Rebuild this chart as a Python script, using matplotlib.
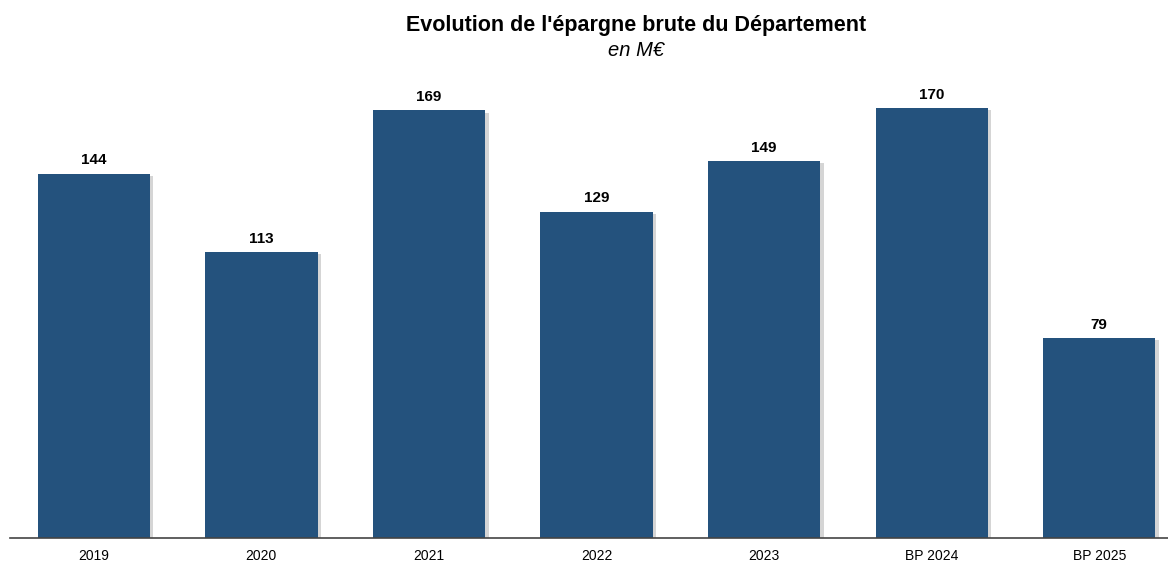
import matplotlib.pyplot as plt
import matplotlib.patheffects as pe

plt.rcParams['font.family'] = ['Liberation Sans', 'DejaVu Sans']

annees = ['2019', '2020', '2021', '2022', '2023', 'BP 2024', 'BP 2025']
epargne = [144, 113, 169, 129, 149, 170, 79]

fig = plt.figure(figsize=(11.68, 5.63), dpi=100)
ax = fig.add_axes([10 / 1168, 25 / 563, 1158 / 1168, 506 / 563])

x = range(len(annees))
bars = ax.bar(x, epargne, width=0.67, color='#24527d', zorder=2,
              path_effects=[pe.SimplePatchShadow(offset=(2.5, -1.5), shadow_rgbFace='#888888', alpha=0.35), pe.Normal()])

for xi, v in zip(x, epargne):
    ax.text(xi, v + 2.5, str(v), ha='center', va='bottom', fontsize=11, fontweight='bold')

ax.set_xlim(-0.5, 6.41)
ax.set_ylim(0, 200)
ax.set_xticks(list(x))
ax.set_xticklabels(annees, fontsize=10)
ax.tick_params(axis='x', length=0, pad=8)
ax.set_yticks([])
for s in ['top', 'right', 'left']:
    ax.spines[s].set_visible(False)
ax.spines['bottom'].set_color('#444444')
ax.spines['bottom'].set_linewidth(1.2)

fig.text(0.545, 1 - 25 / 563, "Evolution de l'épargne brute du Département", ha='center', va='center',
         fontsize=15.5, fontweight='bold')
fig.text(0.545, 1 - 50 / 563, "en M€", ha='center', va='center', fontsize=14.5, style='italic')

fig.savefig('out.png', dpi=100)
